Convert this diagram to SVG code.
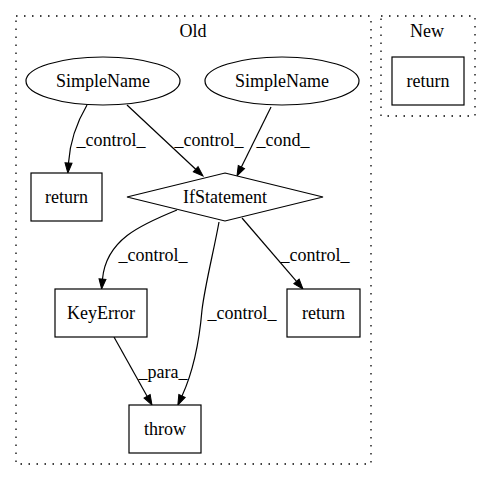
<svg xmlns="http://www.w3.org/2000/svg" width="491" height="480" viewBox="0 0 491 480">
<style>
text{font-family:"Liberation Serif","Times New Roman",serif;font-size:18px;text-anchor:middle;fill:#000}
.cl{fill:none;stroke:#000;stroke-width:1.3;stroke-dasharray:1.5,6.5}
.n{fill:#fff;stroke:#000;stroke-width:1.2}
.e{fill:none;stroke:#000;stroke-width:1.2;marker-end:url(#a)}
</style>
<defs>
<marker id="a" markerUnits="userSpaceOnUse" markerWidth="11" markerHeight="8" refX="0" refY="3.5" orient="auto" viewBox="0 0 11 8" overflow="visible">
<path d="M0,0 L10,3.5 L0,7 z" fill="#000" stroke="#000"/>
</marker>
</defs>
<rect width="491" height="480" fill="#fff"/>
<g id="cluster_old">
<rect class="cl" x="16" y="16" width="355" height="448"/>
<text x="193" y="37">Old</text>
</g>
<g id="cluster_new">
<rect class="cl" x="381" y="16" width="94" height="100"/>
<text x="427" y="37">New</text>
</g>
<g id="connectors">
<path class="e" d="M87,105 C77,122 70,140 68.5,163"/>
<text x="111" y="146">_control_</text>
<path class="e" d="M127,105 L195.7,169.2"/>
<text x="209" y="146">_control_</text>
<path class="e" d="M271,107 L241.4,167"/>
<text x="283" y="146">_cond_</text>
<path class="e" d="M177,210 C140,225 106,240 102.5,279"/>
<text x="153" y="261">_control_</text>
<path class="e" d="M219,222 C214,250 205,285 202,310 C199,345 193,372 182,396"/>
<text x="242" y="319">_control_</text>
<path class="e" d="M242,218 L296.5,281.4"/>
<text x="315" y="261">_control_</text>
<path class="e" d="M114,337 L147.1,396.3"/>
<text x="163" y="378">_para_</text>
</g>
<g id="sn1"><ellipse class="n" cx="103" cy="81" rx="77" ry="24"/><text x="103" y="87">SimpleName</text></g>
<g id="sn2"><ellipse class="n" cx="282" cy="81" rx="77" ry="24"/><text x="282" y="87">SimpleName</text></g>
<g id="ret1"><rect class="n" x="31" y="173" width="71" height="48"/><text x="66.5" y="203">return</text></g>
<g id="ifst"><polygon class="n" points="225,173 323,197 225,221 127,197"/><text x="225" y="203">IfStatement</text></g>
<g id="keyerror"><rect class="n" x="55" y="289" width="92" height="48"/><text x="101" y="319">KeyError</text></g>
<g id="ret2"><rect class="n" x="287" y="289" width="73" height="48"/><text x="323.5" y="319">return</text></g>
<g id="throw"><rect class="n" x="129" y="405" width="72" height="48"/><text x="165" y="435">throw</text></g>
<g id="ret_new"><rect class="n" x="392" y="57" width="72" height="48"/><text x="428" y="87">return</text></g>
</svg>
